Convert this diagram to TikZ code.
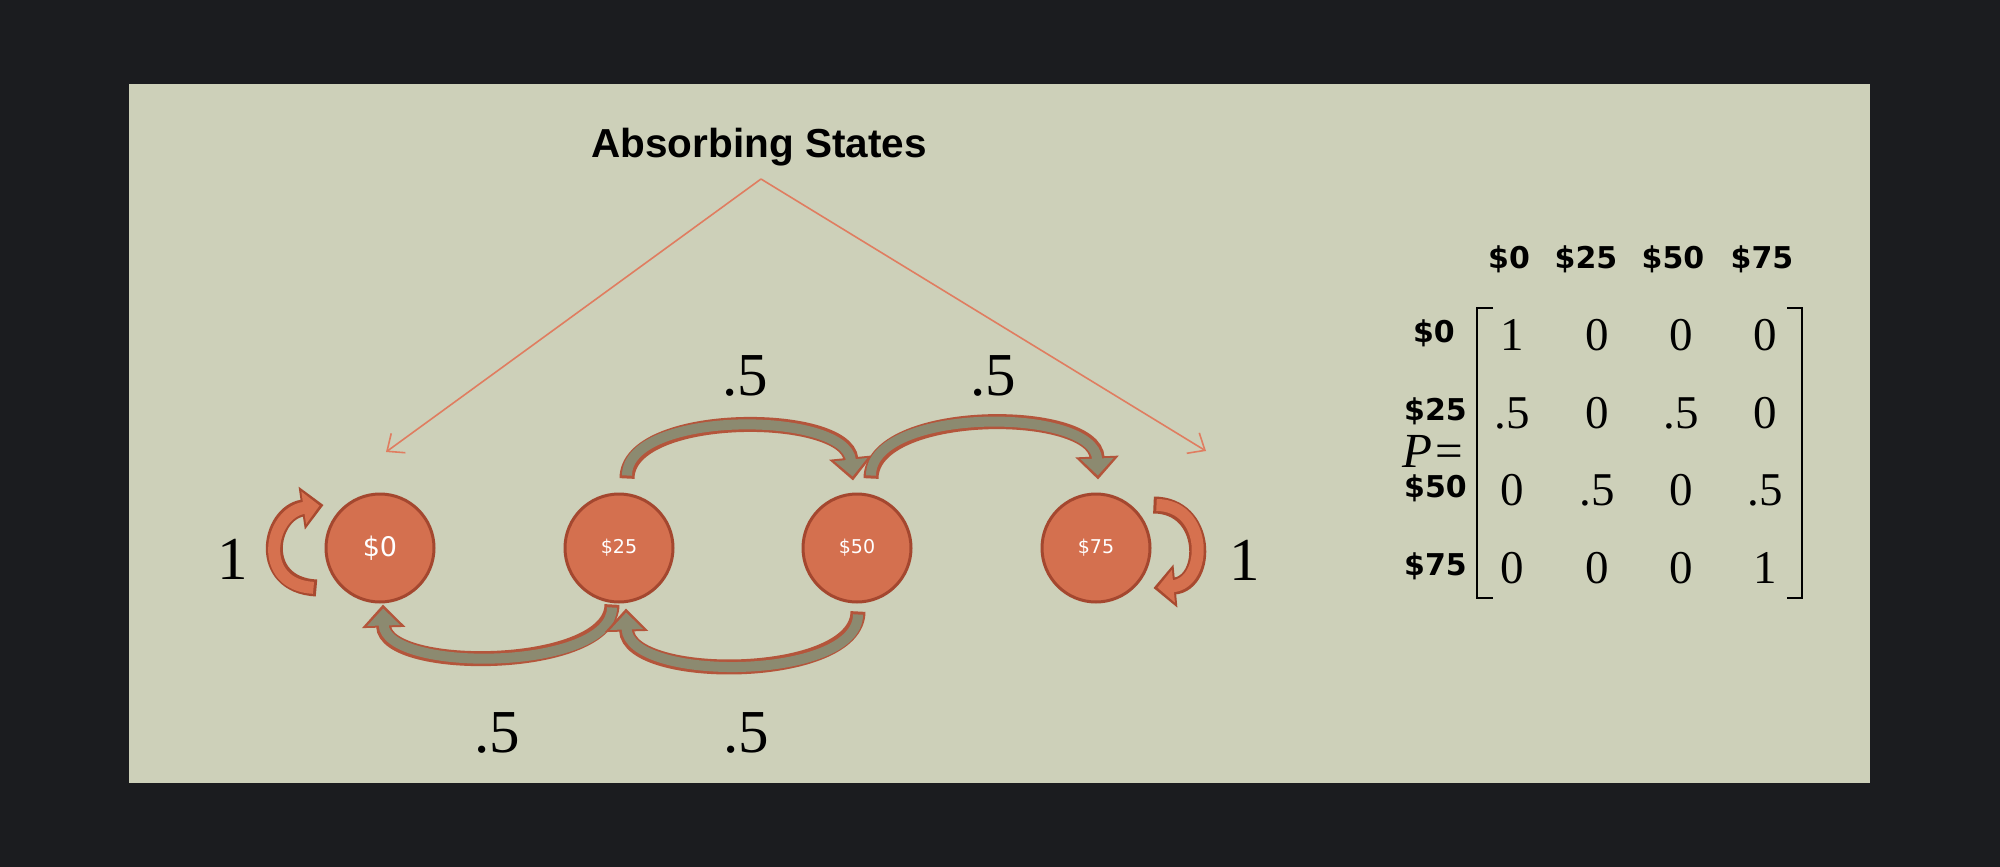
\documentclass[tikz,border=0pt]{standalone}
\usepackage{fontspec}
\setmainfont{Liberation Serif}
\newfontfamily\sansf{Liberation Sans}
\newfontfamily\dejaf{DejaVu Sans}
\usetikzlibrary{arrows.meta,calc}
\definecolor{outerbg}{HTML}{1B1C1F}
\definecolor{slide}{HTML}{CDD0B9}
\definecolor{stfill}{HTML}{D4704F}
\definecolor{stline}{HTML}{A4472F}
\definecolor{arline}{HTML}{B4553B}
\definecolor{arfill}{HTML}{8C8A70}
\definecolor{loopfill}{HTML}{D6714F}
\definecolor{loopline}{HTML}{A84A30}
\definecolor{thinar}{HTML}{E07D60}
\begin{document}
\begin{tikzpicture}[x=1pt,y=-1pt,
 state/.style={circle,fill=stfill,draw=stline,line width=3pt,minimum size=108pt,inner sep=0pt,text=white,font=\dejaf\fontsize{19}{19}\selectfont},
 num/.style={font=\fontsize{61}{61}\selectfont,inner sep=0pt},
 entry/.style={font=\fontsize{47}{47}\selectfont,inner sep=0pt,anchor=base},
 hdr/.style={font=\dejaf\bfseries\fontsize{30}{30}\selectfont,inner sep=0pt},
 blockout/.style={draw=arline,line width=15pt,-{Triangle[length=23pt,width=42pt]}},
 blockin/.style={draw=arfill,line width=10pt,shorten <=3pt,shorten >=4pt,-{Triangle[length=17pt,width=32pt]}},
 loopout/.style={draw=loopline,line width=17pt,-{Triangle[length=22pt,width=42pt]}},
 loopin/.style={draw=loopfill,line width=12pt,shorten <=3pt,shorten >=4pt,-{Triangle[length=16pt,width=32pt]}},
 thinarrow/.style={draw=thinar,line width=1.6pt,-{Straight Barb[length=14pt,width=24pt]}},
 bracket/.style={draw=black,line width=2.6pt}
]
\fill[outerbg] (0,0) rectangle (2000,867);
\useasboundingbox (0,0) rectangle (2000,867);
\fill[slide] (129,84) rectangle (1870,783);

% title and pointers
\node[font=\sansf\bfseries\fontsize{40.5}{40.5}\selectfont,anchor=base,inner sep=0pt] (title) at (759,157) {Absorbing States};
\coordinate (apex) at (761,179);
\coordinate (tipL) at (386,452);
\coordinate (tipR) at (1206,451);
\draw[thinarrow] (apex) -- (tipL);
\draw[thinarrow] (apex) -- (tipR);

% states
\node[state,font=\dejaf\fontsize{27}{27}\selectfont] (c0) at (380,548) {\$0};
\node[state] (c25) at (619,548) {\$25};
\node[state] (c50) at (857,548) {\$50};
\node[state] (c75) at (1096,548) {\$75};

% top arrows
\draw[blockout] ($(c25.north)+(8,-14)$) .. controls +(0,-69) and +(-7,-70) .. ($(c50.north)+(-4,-12)$);
\draw[blockin]  ($(c25.north)+(8,-14)$) .. controls +(0,-69) and +(-7,-70) .. ($(c50.north)+(-4,-12)$);
\draw[blockout] ($(c50.north)+(14,-14)$) .. controls +(0,-72) and +(-3,-73) .. ($(c75.north)+(2,-13)$);
\draw[blockin]  ($(c50.north)+(14,-14)$) .. controls +(0,-72) and +(-3,-73) .. ($(c75.north)+(2,-13)$);
% bottom arrows
\draw[blockout] ($(c25.south)+(-7,1)$) .. controls +(0,67) and +(2,69) .. ($(c0.south)+(3,1)$);
\draw[blockin]  ($(c25.south)+(-7,1)$) .. controls +(0,67) and +(2,69) .. ($(c0.south)+(3,1)$);
\draw[blockout] ($(c50.south)+(1,8)$) .. controls +(0,70) and +(2,74) .. ($(c25.south)+(7,5)$);
\draw[blockin]  ($(c50.south)+(1,8)$) .. controls +(0,70) and +(2,74) .. ($(c25.south)+(7,5)$);
% self loops
\draw[loopout] ($(c0.west)+(-8,40)$) .. controls +(-60,-3) and +(-55,8) .. ($(c0.west)+(-1,-43)$);
\draw[loopin]  ($(c0.west)+(-8,40)$) .. controls +(-60,-3) and +(-55,8) .. ($(c0.west)+(-1,-43)$);
\draw[loopout] ($(c75.east)+(2,-43)$) .. controls +(55,0) and +(55,-5) .. ($(c75.east)+(2,40)$);
\draw[loopin]  ($(c75.east)+(2,-43)$) .. controls +(55,0) and +(55,-5) .. ($(c75.east)+(2,40)$);

% probability labels
\node[num] (l1a) at (233,559) {1};
\node[num] (l1b) at (1245,560) {1};
\node[num] (pa) at (745,376) {.5};
\node[num] (pb) at (993,376) {.5};
\node[num] (pc) at (497,733) {.5};
\node[num] (pd) at (746,733) {.5};

% matrix headers
\node[hdr,anchor=base] (h0) at (1509,268) {\$0};
\node[hdr,anchor=base] (h25) at (1586,268) {\$25};
\node[hdr,anchor=base] (h50) at (1673,268) {\$50};
\node[hdr,anchor=base] (h75) at (1762,268) {\$75};
\node[hdr,anchor=base east] (r0) at (1455,342) {\$0};
\node[hdr,anchor=base east] (r25) at (1467,420) {\$25};
\node[hdr,anchor=base east] (r50) at (1467,497) {\$50};
\node[hdr,anchor=base east] (r75) at (1467,575) {\$75};
\node[font=\fontsize{49}{49}\selectfont,inner sep=0pt,anchor=base east] (peq) at (1463,467) {\itshape P\kern3pt\upshape=};

% brackets
\draw[bracket] (1493,308) -- (1477,308) -- (1477,598) -- (1493,598);
\draw[bracket] (1787,308) -- (1802,308) -- (1802,598) -- (1787,598);

% entries
\node[entry] (m11) at (1512,350) {1};
\node[entry] (m12) at (1597,350) {0};
\node[entry] (m13) at (1681,350) {0};
\node[entry] (m14) at (1765,350) {0};
\node[entry] (m21) at (1512,428) {.5};
\node[entry] (m22) at (1597,428) {0};
\node[entry] (m23) at (1681,428) {.5};
\node[entry] (m24) at (1765,428) {0};
\node[entry] (m31) at (1512,505) {0};
\node[entry] (m32) at (1597,505) {.5};
\node[entry] (m33) at (1681,505) {0};
\node[entry] (m34) at (1765,505) {.5};
\node[entry] (m41) at (1512,583) {0};
\node[entry] (m42) at (1597,583) {0};
\node[entry] (m43) at (1681,583) {0};
\node[entry] (m44) at (1765,583) {1};
\end{tikzpicture}
\end{document}
